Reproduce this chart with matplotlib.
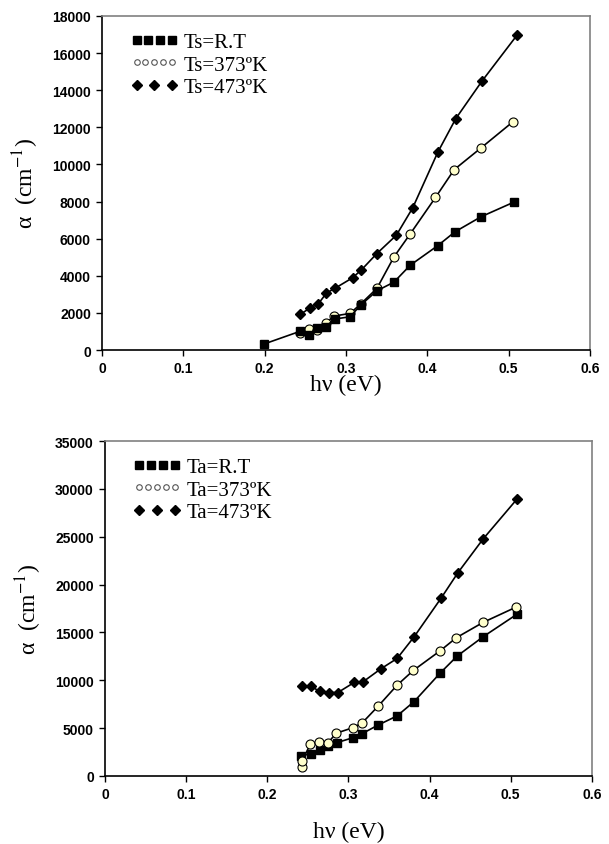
import matplotlib
matplotlib.use('Agg')
import matplotlib.pyplot as plt
from matplotlib.lines import Line2D
from matplotlib.legend_handler import HandlerLine2D

# ---- data ----
# top panel: substrate temperature Ts
ts_rt_x = [0.199, 0.243, 0.254, 0.264, 0.275, 0.286, 0.305, 0.318, 0.338, 0.359, 0.379, 0.413, 0.434, 0.466, 0.507]
ts_rt_y = [320, 1000, 810, 1200, 1260, 1670, 1790, 2420, 3190, 3660, 4570, 5630, 6370, 7180, 7980]

ts_373_x = [0.243, 0.254, 0.264, 0.275, 0.285, 0.305, 0.318, 0.338, 0.359, 0.379, 0.410, 0.433, 0.466, 0.505]
ts_373_y = [900, 1110, 1080, 1430, 1830, 1970, 2480, 3320, 5020, 6260, 8220, 9720, 10890, 12290]

ts_473_x = [0.244, 0.256, 0.266, 0.276, 0.287, 0.308, 0.319, 0.338, 0.362, 0.382, 0.413, 0.435, 0.467, 0.510]
ts_473_y = [1920, 2280, 2490, 3070, 3340, 3890, 4320, 5200, 6190, 7660, 10670, 12470, 14480, 16950]

# bottom panel: annealing temperature Ta
ta_rt_x = [0.242, 0.254, 0.265, 0.275, 0.286, 0.306, 0.317, 0.337, 0.360, 0.381, 0.413, 0.434, 0.466, 0.508]
ta_rt_y = [2090, 2340, 2690, 3140, 3490, 4010, 4430, 5340, 6280, 7780, 10750, 12530, 14550, 16920]

ta_373_x = [0.243, 0.243, 0.253, 0.264, 0.275, 0.285, 0.306, 0.317, 0.337, 0.360, 0.380, 0.413, 0.433, 0.466, 0.507]
ta_373_y = [980, 1570, 3320, 3590, 3490, 4470, 5060, 5550, 7330, 9490, 11030, 13080, 14450, 16050, 17660]

ta_473_x = [0.243, 0.254, 0.265, 0.276, 0.287, 0.307, 0.318, 0.340, 0.360, 0.381, 0.414, 0.435, 0.466, 0.508]
ta_473_y = [9420, 9350, 8830, 8720, 8720, 9770, 9840, 11200, 12280, 14550, 18560, 21250, 24770, 28960]

x_ticks = [0, 0.1, 0.2, 0.3, 0.4, 0.5, 0.6]
x_ticklabels = ['0', '0.1', '0.2', '0.3', '0.4', '0.5', '0.6']
top_yticks = list(range(0, 18001, 2000))
bot_yticks = list(range(0, 35001, 5000))

plt.rcParams['mathtext.fontset'] = 'stix'
serif = 'Liberation Serif'

fig = plt.figure(figsize=(6.09, 8.45), dpi=100)
ax1 = fig.add_axes([0.1675, 0.5846, 0.8013, 0.3953])
ax2 = fig.add_axes([0.1724, 0.0805, 0.7995, 0.3964])

sq = dict(marker='s', color='k', mfc='k', mec='k', ms=6, lw=1.2)
ci = dict(marker='o', color='k', mfc='#ffffcc', mec='k', mew=0.8, ms=6.5, lw=1.2)
di = dict(marker='D', color='k', mfc='k', mec='k', ms=5.5, lw=1.2)


def style(ax, yticks, ymax, prefix, xpad):
    ax.set_xlim(0, 0.6)
    ax.set_ylim(0, ymax)
    ax.set_xticks(x_ticks)
    ax.set_xticklabels(x_ticklabels)
    ax.set_yticks(yticks)
    ax.tick_params(direction='out', length=4, width=1, labelsize=10, pad=4)
    for lab in ax.get_xticklabels() + ax.get_yticklabels():
        lab.set_fontweight('bold')
        lab.set_family('Liberation Sans')
    for s in ['left', 'bottom']:
        ax.spines[s].set_color('k')
        ax.spines[s].set_linewidth(1.2)
    for s in ['top', 'right']:
        ax.spines[s].set_color('#808080')
        ax.spines[s].set_linewidth(1.2)
    ax.set_xlabel('h\u03bd (eV)', family=serif, fontsize=17, labelpad=xpad)
    ax.set_ylabel('\u03b1  (cm$^{-1}$)', family=serif, fontsize=17, labelpad=8)

    h1 = Line2D([], [], ls='none', marker='s', color='k', ms=5.5)
    h2 = Line2D([], [], ls='none', marker='o', mfc='white', mec='#555555', mew=0.8, ms=4)
    h3 = Line2D([], [], ls='none', marker='D', color='k', ms=5)
    ax.legend([h1, h2, h3],
              [prefix + '=R.T', prefix + '=373\u00baK', prefix + '=473\u00baK'],
              handler_map={h1: HandlerLine2D(numpoints=4),
                           h2: HandlerLine2D(numpoints=5),
                           h3: HandlerLine2D(numpoints=3)},
              loc='upper left', bbox_to_anchor=(0.058, 0.95), frameon=False,
              prop={'family': serif, 'size': 15}, handlelength=2.3,
              handletextpad=0.25, labelspacing=0.13, borderpad=0, borderaxespad=0)


# top panel
ax1.plot(ts_473_x, ts_473_y, **di)
ax1.plot(ts_373_x, ts_373_y, **ci)
ax1.plot(ts_rt_x, ts_rt_y, **sq)
style(ax1, top_yticks, 18000, 'Ts', -1)

# bottom panel
ax2.plot(ta_rt_x, ta_rt_y, **sq)
ax2.plot(ta_373_x, ta_373_y, **ci)
ax2.plot(ta_473_x, ta_473_y, **di)
style(ax2, bot_yticks, 35000, 'Ta', 14)

fig.savefig('out.png', dpi=100)
